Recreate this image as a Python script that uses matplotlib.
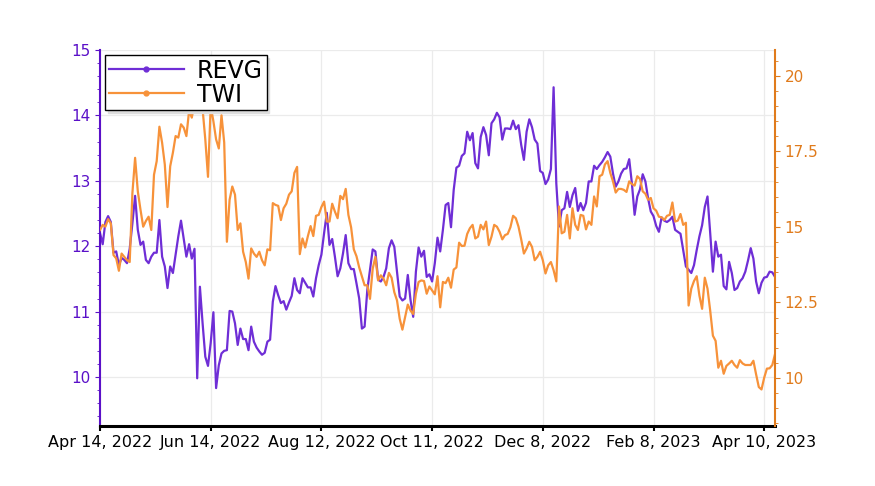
import matplotlib
matplotlib.use("Agg")
import matplotlib.pyplot as plt
from matplotlib.lines import Line2D
from matplotlib.ticker import MultipleLocator, AutoMinorLocator

# daily closes, one year of trading days (Apr 14, 2022 -> Apr 14, 2023)
revg = [
    12.20, 12.03, 12.37, 12.46, 12.37, 11.90, 11.92, 11.71, 11.82, 11.79,
    11.74, 11.96, 12.35, 12.77, 12.25, 12.02, 12.07, 11.79, 11.74, 11.84,
    11.90, 11.90, 12.40, 11.84, 11.69, 11.36, 11.69, 11.59, 11.87, 12.15,
    12.39, 12.12, 11.84, 12.03, 11.81, 11.96, 9.98, 11.38, 10.82, 10.31,
    10.17, 10.52, 10.99, 9.83, 10.18, 10.36, 10.40, 10.41, 11.01, 11.00,
    10.82, 10.49, 10.74, 10.58, 10.58, 10.41, 10.77, 10.54, 10.45, 10.39,
    10.34, 10.37, 10.54, 10.57,
    11.15, 11.39, 11.25, 11.13, 11.16, 11.03, 11.14, 11.24, 11.51, 11.33,
    11.28, 11.51, 11.44, 11.37, 11.37, 11.23, 11.51, 11.71, 11.87, 12.20,
    12.51, 12.02, 12.11, 11.84, 11.54, 11.66, 11.89, 12.17, 11.74, 11.65,
    11.65, 11.43, 11.20, 10.74, 10.77, 11.33, 11.64, 11.95, 11.92, 11.49,
    11.46, 11.53, 11.66, 11.97, 12.09, 11.99, 11.61, 11.23, 11.17, 11.20,
    11.56, 11.18, 10.92, 11.61, 11.98, 11.84, 11.93, 11.53, 11.57, 11.46,
    11.74, 12.13,
    11.92, 12.25, 12.63, 12.66, 12.29, 12.86, 13.20, 13.23, 13.38, 13.42,
    13.75, 13.62, 13.73, 13.27, 13.19, 13.67, 13.82, 13.70, 13.39, 13.88,
    13.94, 14.04, 13.97, 13.63, 13.80, 13.80, 13.79, 13.92, 13.79, 13.85,
    13.55, 13.32, 13.75, 13.94, 13.82, 13.63, 13.57, 13.15, 13.12, 12.95,
    13.02, 13.18, 14.43, 12.96, 12.30, 12.55, 12.58, 12.83, 12.60, 12.78,
    12.89, 12.54, 12.66, 12.55, 12.66, 12.99, 12.99, 13.23, 13.18, 13.24,
    13.29, 13.36, 13.44, 13.37,
    13.11, 12.91, 12.99, 13.11, 13.18, 13.19, 13.33, 12.96, 12.48, 12.76,
    12.87, 13.10, 12.99, 12.73, 12.53, 12.46, 12.31, 12.22, 12.44, 12.39,
    12.37, 12.40, 12.45, 12.25, 12.22, 12.19, 11.94, 11.69, 11.64, 11.59,
    11.71, 11.94, 12.15, 12.32, 12.60, 12.76, 12.20, 11.61, 12.07, 11.84,
    11.87, 11.39, 11.34, 11.76, 11.59, 11.33, 11.36, 11.46, 11.51, 11.61,
    11.78, 11.97, 11.81, 11.46, 11.28, 11.44, 11.52, 11.53, 11.61, 11.60,
    11.53,
]

twi = [
    14.90, 15.07, 15.01, 15.26, 15.12, 14.07, 13.96, 13.55, 14.12, 14.01,
    13.90, 13.84, 16.12, 17.29, 16.18, 15.57, 15.01, 15.20, 15.34, 14.90,
    16.73, 17.18, 18.32, 17.79, 17.07, 15.66, 17.01, 17.46, 18.01, 17.96,
    18.40, 18.29, 18.01, 18.85, 18.62, 19.10, 19.40, 19.20, 18.90, 17.90,
    16.66, 19.00, 18.50, 17.90, 17.60, 18.70, 17.80, 14.51, 15.90, 16.34,
    16.07, 14.90, 15.12, 14.18, 13.84, 13.29, 14.29, 14.12, 14.01, 14.18,
    13.90, 13.73, 14.26, 14.23,
    15.79, 15.73, 15.70, 15.23, 15.62, 15.77, 16.07, 16.18, 16.79, 16.99,
    14.10, 14.62, 14.32, 14.70, 15.03, 14.70, 15.37, 15.40, 15.66, 15.84,
    15.18, 15.18, 15.77, 15.51, 15.29, 16.03, 15.92, 16.26, 15.40, 14.99,
    14.26, 14.03, 13.66, 13.37, 13.07, 13.07, 12.62, 13.62, 14.01, 13.23,
    13.40, 13.29, 13.07, 13.48, 13.32, 12.84, 12.57, 11.96, 11.60, 12.01,
    12.43, 12.23, 12.12, 12.79, 13.18, 13.23, 13.21, 12.79, 13.03, 12.90,
    12.77, 13.37,
    12.34, 13.18, 13.14, 13.32, 12.99, 13.59, 13.66, 14.48, 14.37, 14.38,
    14.77, 14.96, 15.07, 14.62, 14.68, 15.07, 14.92, 15.18, 14.40, 14.68,
    15.07, 15.01, 14.84, 14.59, 14.73, 14.77, 14.99, 15.37, 15.29, 15.01,
    14.59, 14.12, 14.29, 14.51, 14.34, 13.90, 14.01, 14.18, 13.90, 13.46,
    13.73, 13.84, 13.57, 13.20, 15.68, 14.79, 14.84, 15.40, 14.62, 15.62,
    15.07, 14.90, 15.40, 15.37, 14.92, 15.18, 15.07, 16.01, 15.68, 16.68,
    16.73, 17.07, 17.18, 16.79,
    16.51, 16.14, 16.26, 16.26, 16.23, 16.16, 16.51, 16.42, 16.37, 16.68,
    16.59, 16.18, 16.10, 15.90, 15.96, 15.62, 15.54, 15.34, 15.32, 15.23,
    15.37, 15.40, 15.81, 15.18, 15.21, 15.43, 15.07, 15.14, 12.40, 12.96,
    13.21, 13.37, 12.73, 12.29, 13.32, 12.96, 12.23, 11.40, 11.23, 10.34,
    10.57, 10.14, 10.40, 10.48, 10.57, 10.43, 10.34, 10.59, 10.48, 10.43,
    10.43, 10.43, 10.57, 10.12, 9.70, 9.62, 10.01, 10.31, 10.32, 10.43,
    10.79,
]

tick_pos = [0, 41, 82, 123, 164, 205, 246]
tick_labels = ["Apr 14, 2022", "Jun 14, 2022", "Aug 12, 2022", "Oct 11, 2022",
               "Dec 8, 2022", "Feb 8, 2023", "Apr 10, 2023"]

purple = "#6f2ed6"
purple_dark = "#5a10c8"
orange = "#f7923a"
orange_dark = "#e07b1c"

x = list(range(len(revg)))

fig = plt.figure(figsize=(8.75, 4.86), dpi=100)
ax = fig.add_axes([100 / 875, 1 - 425.7 / 486, 675 / 875, 375.7 / 486])
ax2 = ax.twinx()

ax.plot(x, revg, color=purple, lw=1.6)
ax2.plot(x, twi, color=orange, lw=1.6)

ax.set_xlim(0, 250)
ax.set_ylim(9.255, 15.0)
ax2.set_ylim(8.42, 20.86)

ax.set_xticks(tick_pos)
ax.set_xticklabels(tick_labels, fontsize=11.5)
ax.yaxis.set_minor_locator(AutoMinorLocator(5))
ax2.yaxis.set_minor_locator(AutoMinorLocator(5))
ax.set_yticks([10, 11, 12, 13, 14, 15])
ax2.set_yticks([10, 12.5, 15, 17.5, 20])
ax2.set_yticklabels(["10", "12.5", "15", "17.5", "20"])

ax.tick_params(axis="y", colors=purple_dark, labelsize=11)
ax2.tick_params(axis="y", colors=orange_dark, labelsize=11)
ax.tick_params(axis="y", which="minor", colors=purple_dark)
ax2.tick_params(axis="y", which="minor", colors=orange_dark)
ax.tick_params(axis="x", width=1.5)

ax.grid(True, color="#ebebeb", lw=0.9)
ax.set_axisbelow(True)

for a in (ax, ax2):
    a.spines["top"].set_visible(False)
ax2.spines["left"].set_visible(False)
ax2.spines["bottom"].set_visible(False)
ax.spines["right"].set_visible(False)
ax.spines["left"].set_color(purple_dark)
ax.spines["left"].set_linewidth(1.5)
ax2.spines["right"].set_color(orange_dark)
ax2.spines["right"].set_linewidth(1.5)
ax.spines["bottom"].set_linewidth(2.2)

handles = [
    Line2D([], [], color=purple, lw=1.6, marker="o", markersize=3.5),
    Line2D([], [], color=orange, lw=1.6, marker="o", markersize=3.5),
]
leg = ax2.legend(handles, ["REVG", "TWI"], loc="upper left",
                 bbox_to_anchor=(0.0074, 0.9867), borderaxespad=0,
                 fontsize=17, fancybox=False,
                 shadow={"color": "#dddddd", "alpha": 1}, framealpha=1,
                 edgecolor="black", handlelength=3.2, handletextpad=0.55,
                 borderpad=0.15, labelspacing=0.0)
leg.get_frame().set_linewidth(1.0)

fig.savefig("out.png", dpi=100)
